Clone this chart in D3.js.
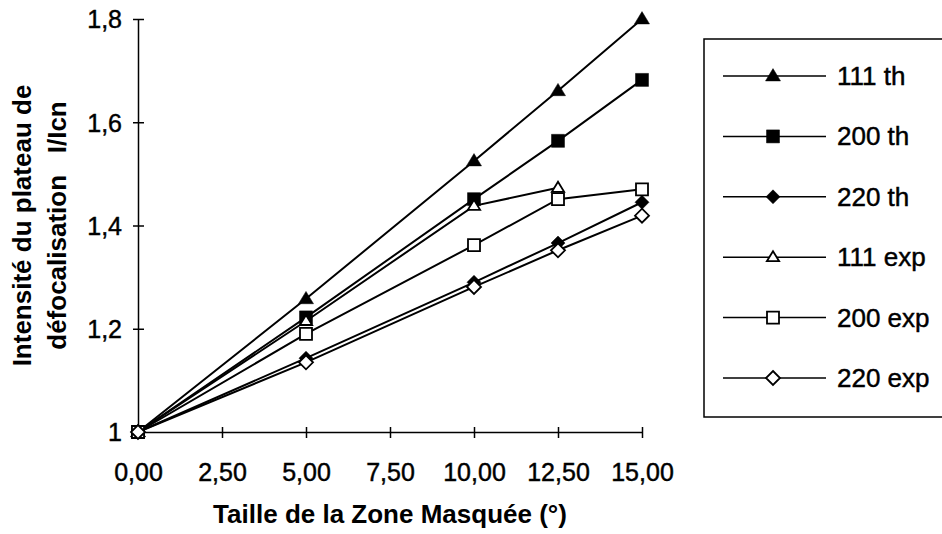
<!DOCTYPE html>
<html>
<head>
<meta charset="utf-8">
<script src="https://cdn.jsdelivr.net/npm/d3@7"></script>
<style>
  html, body { margin: 0; padding: 0; background: #fff; }
  svg { display: block; }
  text { font-family: "Liberation Sans", Arial, Helvetica, sans-serif; fill: #000; }
  .reg { stroke: #000; stroke-width: 0.45px; }
</style>
</head>
<body>
<svg id="chart" width="942" height="534"></svg>
<script>
// ---- data ----
const xValues = [0, 5, 10, 12.5, 15];
const th111 = [1, 1.258, 1.525, 1.661, 1.80];
const th200 = [1, 1.222, 1.451, 1.564, 1.682];
const th220 = [1, 1.143, 1.29, 1.366, 1.445];
const exp111 = [1, 1.215, 1.438, 1.473];          // measured up to 12,5 only
const exp200 = [1, 1.19, 1.362, 1.451, 1.47];
const exp220 = [1, 1.135, 1.281, 1.352, 1.419];
const seriesNames = ["111 th", "200 th", "220 th", "111 exp", "200 exp", "220 exp"];
const seriesValues = [th111, th200, th220, exp111, exp200, exp220];
const seriesMarkers = ["triangle", "square", "diamond", "triangle", "square", "diamond"];
const seriesFilled = [true, true, true, false, false, false];
const xTicks = [0, 2.5, 5, 7.5, 10, 12.5, 15];
const xTickLabels = ["0,00", "2,50", "5,00", "7,50", "10,00", "12,50", "15,00"];
const yTicks = [1, 1.2, 1.4, 1.6, 1.8];
const yTickLabels = ["1", "1,2", "1,4", "1,6", "1,8"];
const xTitle = "Taille de la Zone Masquée (°)";
const yTitleLines = ["Intensité du plateau de", "défocalisation   I/Icn"];

// ---- layout ----
const svg = d3.select("#chart");
const x = d3.scaleLinear().domain([0, 15]).range([138, 642]);
const y = d3.scaleLinear().domain([1, 1.8]).range([432, 19]);

const squareSym = { draw(ctx, size) { const h = Math.sqrt(size) / 2; ctx.moveTo(-h, -h); ctx.lineTo(h, -h); ctx.lineTo(h, h); ctx.lineTo(-h, h); ctx.closePath(); } };
const diamondSym = { draw(ctx, size) { const h = Math.sqrt(size) / 2; ctx.moveTo(0, -h); ctx.lineTo(h, 0); ctx.lineTo(0, h); ctx.lineTo(-h, 0); ctx.closePath(); } };
const triSym = { draw(ctx, size) { const w = Math.sqrt(size); const hh = w * 0.82; ctx.moveTo(0, -hh * 0.6); ctx.lineTo(w / 2, hh * 0.4); ctx.lineTo(-w / 2, hh * 0.4); ctx.closePath(); } };
function symbolFor(kind, filled) {
  if (kind === "triangle") return d3.symbol().type(triSym).size(filled ? 225 : 150)();
  if (kind === "square") return d3.symbol().type(squareSym).size(filled ? 169 : 144)();
  return d3.symbol().type(diamondSym).size(196)();
}

// ---- axes ----
const yAxis = d3.axisLeft(y).tickValues(yTicks).tickSize(0).tickFormat((d, i) => yTickLabels[i]);
const gy = svg.append("g").attr("transform", "translate(138,0)").call(yAxis);
gy.select(".domain").attr("stroke", "#000").attr("stroke-width", 1.5);
gy.selectAll(".tick text").attr("class", "reg").attr("x", -16).attr("dy", "0.35em").style("font-size", "25px").style("font-family", "'Liberation Sans', Arial, sans-serif");
gy.selectAll(".tick").append("line").attr("x1", -5).attr("x2", 6).attr("stroke", "#000").attr("stroke-width", 1.5);

const xAxis = d3.axisBottom(x).tickValues(xTicks).tickSize(0).tickFormat((d, i) => xTickLabels[i]);
const gx = svg.append("g").attr("transform", "translate(0,432)").call(xAxis);
gx.select(".domain").attr("stroke", "#000").attr("stroke-width", 1.5);
gx.selectAll(".tick text").attr("class", "reg").attr("y", 49).attr("dy", 0).style("font-size", "25px").style("font-family", "'Liberation Sans', Arial, sans-serif");
gx.selectAll(".tick").append("line").attr("y1", -5).attr("y2", 6).attr("stroke", "#000").attr("stroke-width", 1.5);

// titles
svg.append("text").attr("x", (x(0) + x(15)) / 2).attr("y", 523).attr("text-anchor", "middle")
  .style("font-size", "26px").style("font-weight", "bold").text(xTitle);
const yt = svg.append("g").attr("transform", "translate(0," + ((y(1) + y(1.8)) / 2) + ") rotate(-90)");
yTitleLines.forEach((t, i) => {
  yt.append("text").attr("x", 0).attr("y", 31 + i * 35).attr("text-anchor", "middle")
    .attr("xml:space", "preserve").style("white-space", "pre")
    .style("font-size", "26px").style("font-weight", "bold").text(t);
});

// ---- series ----
const line = d3.line().x(d => x(d[0])).y(d => y(d[1]));
seriesValues.forEach((vals, si) => {
  const pts = vals.map((v, i) => [xValues[i], v]);
  svg.append("path").datum(pts).attr("d", line).attr("fill", "none").attr("stroke", "#000").attr("stroke-width", 2);
  svg.selectAll(null).data(pts).enter().append("path")
    .attr("transform", d => "translate(" + x(d[0]) + "," + y(d[1]) + ")")
    .attr("d", symbolFor(seriesMarkers[si], seriesFilled[si]))
    .attr("fill", seriesFilled[si] ? "#000" : "#fff")
    .attr("stroke", "#000").attr("stroke-width", seriesFilled[si] ? 0.5 : 1.8);
});

// ---- legend ----
const lg = svg.append("g");
lg.append("rect").attr("x", 704).attr("y", 39).attr("width", 260).attr("height", 378)
  .attr("fill", "none").attr("stroke", "#000").attr("stroke-width", 1.5);
seriesNames.forEach((name, i) => {
  const ly = 76 + i * 60.4;
  lg.append("line").attr("x1", 723).attr("x2", 826).attr("y1", ly).attr("y2", ly).attr("stroke", "#000").attr("stroke-width", 1.5);
  lg.append("path").attr("transform", "translate(773," + ly + ")")
    .attr("d", symbolFor(seriesMarkers[i], seriesFilled[i]))
    .attr("fill", seriesFilled[i] ? "#000" : "#fff").attr("stroke", "#000").attr("stroke-width", seriesFilled[i] ? 0.5 : 1.8);
  lg.append("text").attr("class", "reg").attr("x", 837).attr("y", ly + 9).style("font-size", "26px").text(name);
});
</script>
</body>
</html>
